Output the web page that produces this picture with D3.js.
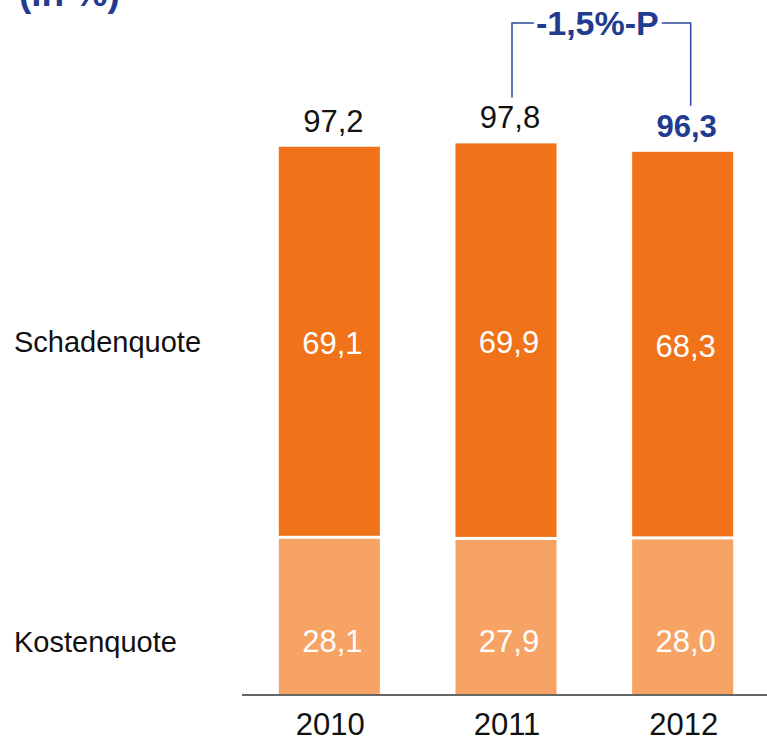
<!DOCTYPE html>
<html>
<head>
<meta charset="utf-8">
<script src="https://cdn.jsdelivr.net/npm/d3@7/dist/d3.min.js"></script>
<style>
  html, body { margin: 0; padding: 0; background: #fff; }
  svg { display: block; font-family: "Liberation Sans", Arial, sans-serif; }
</style>
</head>
<body>
<svg id="chart" width="767" height="736"></svg>
<script>
const years = ["2010", "2011", "2012"];
const kostenquote = [28.1, 27.9, 28.0];
const schadenquote = [69.1, 69.9, 68.3];
const totals = [97.2, 97.8, 96.3];
const totalLabels = ["97,2", "97,8", "96,3"];
const schadenLabels = ["69,1", "69,9", "68,3"];
const kostenLabels = ["28,1", "27,9", "28,0"];
const seriesNames = ["Schadenquote", "Kostenquote"];
const changeLabel = "-1,5%-P";
const unitLabel = "(in %)";

const svg = d3.select("#chart");
const dark = "#F07219", light = "#F7A365", blue = "#1F3C8F";

const x = d3.scaleBand().domain(years).range([241, 771]).paddingInner(0.428).paddingOuter(0.214);
const y = d3.scaleLinear().domain([0, 100]).range([694, 131]);
const bw = x.bandwidth();

const data = years.map((yr, i) => ({yr, k: kostenquote[i], s: schadenquote[i], t: totals[i],
  tl: totalLabels[i], sl: schadenLabels[i], kl: kostenLabels[i]}));

// unit label (partially cut off at top)
svg.append("text").attr("x", 19).attr("y", 6).attr("font-size", 37).attr("font-weight", "bold")
  .attr("fill", blue).text(unitLabel);

// bars
const g = svg.append("g");
g.selectAll("rect.s").data(data).join("rect")
  .attr("x", d => x(d.yr)).attr("width", bw)
  .attr("y", d => y(d.t)).attr("height", d => y(d.k) - y(d.t))
  .attr("fill", dark);
g.selectAll("rect.k").data(data).join("rect").attr("class", "k")
  .attr("x", d => x(d.yr)).attr("width", bw)
  .attr("y", d => y(d.k) + 3).attr("height", d => y(0) - y(d.k) - 3)
  .attr("fill", light);

// axis line
svg.append("line").attr("x1", 242).attr("x2", 767).attr("y1", y(0) + 1).attr("y2", y(0) + 1)
  .attr("stroke", "#333").attr("stroke-width", 1.5);

// year labels
svg.selectAll("text.yr").data(data).join("text").attr("class", "yr")
  .attr("x", d => x(d.yr) + bw / 2 + 1).attr("y", 735)
  .attr("text-anchor", "middle").attr("font-size", 31).attr("fill", "#111").text(d => d.yr);

// inside labels
svg.selectAll("text.sl").data(data).join("text").attr("class", "sl")
  .attr("x", d => x(d.yr) + bw / 2 + 3).attr("y", d => (y(d.t) + y(d.k)) / 2 + 13)
  .attr("text-anchor", "middle").attr("font-size", 31).attr("fill", "#fff").text(d => d.sl);
svg.selectAll("text.kl").data(data).join("text").attr("class", "kl")
  .attr("x", d => x(d.yr) + bw / 2 + 3).attr("y", y(0) - 42)
  .attr("text-anchor", "middle").attr("font-size", 31).attr("fill", "#fff").text(d => d.kl);

// totals
svg.selectAll("text.tl").data(data).join("text").attr("class", "tl")
  .attr("x", d => x(d.yr) + bw / 2 + 4).attr("y", d => y(d.t) - 15)
  .attr("text-anchor", "middle").attr("font-size", 31)
  .attr("font-weight", (d, i) => i === data.length - 1 ? "bold" : "normal")
  .attr("fill", (d, i) => i === data.length - 1 ? blue : "#111").text(d => d.tl);

// series labels
svg.append("text").attr("x", 14).attr("y", 352).attr("font-size", 29).attr("fill", "#111").text(seriesNames[0]);
svg.append("text").attr("x", 14).attr("y", 652).attr("font-size", 29).attr("fill", "#111").text(seriesNames[1]);

// change bracket
const a = data[1], b = data[2];
const xl = x(a.yr) + bw / 2 + 6, xr = x(b.yr) + bw / 2 + 8, yt = 23;
const mid = (xl + xr) / 2;
const ct = svg.append("text").attr("x", mid - 4).attr("y", 35).attr("text-anchor", "middle")
  .attr("font-size", 34).attr("font-weight", "bold").attr("fill", blue).text(changeLabel);
const tw = ct.node().getComputedTextLength();
const br = svg.append("g").attr("stroke", "#2B4A9B").attr("stroke-width", 1.5).attr("fill", "none");
br.append("path").attr("d", `M${xl},${y(a.t) - 46}V${yt}H${mid - 4 - tw / 2 - 2}`);
br.append("path").attr("d", `M${mid - 4 + tw / 2 + 3},${yt}H${xr}V${y(b.t) - 46}`);
</script>
</body>
</html>
